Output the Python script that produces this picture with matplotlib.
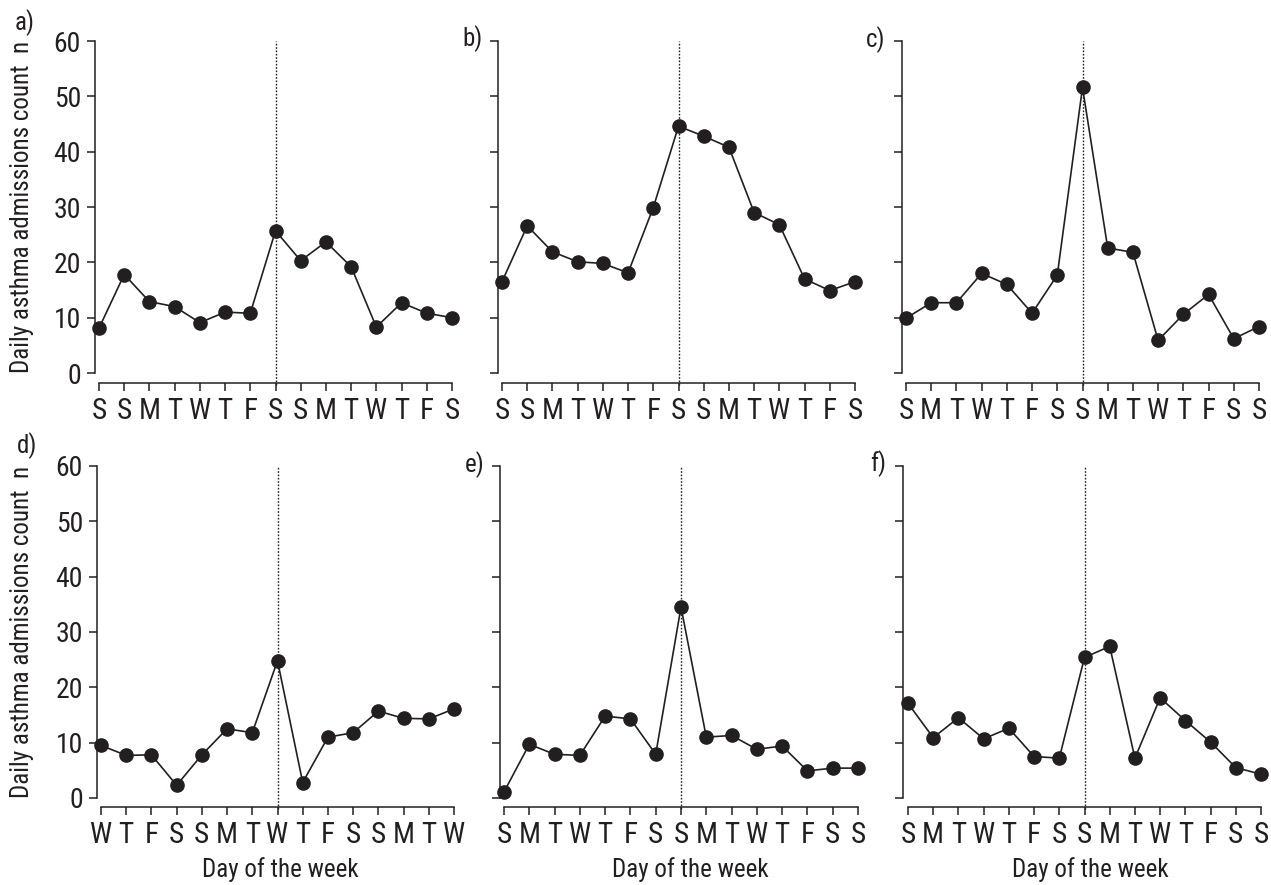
import matplotlib
matplotlib.use("Agg")
import matplotlib.pyplot as plt
from matplotlib import font_manager as fm

_installed = set(f.name for f in fm.fontManager.ttflist)
_prefs = ['Liberation Sans Narrow', 'Arial Narrow', 'Nimbus Sans Narrow', 'Roboto Condensed',
          'PT Sans Narrow', 'Archivo Narrow', 'Liberation Sans']
FONT = next(p for p in _prefs if p in _installed)
plt.rcParams['font.family'] = [FONT, 'DejaVu Sans']

INK = '#231f20'

labels_a = ["S", "S", "M", "T", "W", "T", "F", "S", "S", "M", "T", "W", "T", "F", "S"]
labels_b = ["S", "S", "M", "T", "W", "T", "F", "S", "S", "M", "T", "W", "T", "F", "S"]
labels_c = ["S", "M", "T", "W", "T", "F", "S", "S", "M", "T", "W", "T", "F", "S", "S"]
labels_d = ["W", "T", "F", "S", "S", "M", "T", "W", "T", "F", "S", "S", "M", "T", "W"]
labels_e = ["S", "M", "T", "W", "T", "F", "S", "S", "M", "T", "W", "T", "F", "S", "S"]
labels_f = ["S", "M", "T", "W", "T", "F", "S", "S", "M", "T", "W", "T", "F", "S", "S"]

counts_a = [8.1, 17.8, 12.9, 12.0, 9.1, 11.0, 10.8, 25.7, 20.3, 23.7, 19.2, 8.3, 12.7, 10.8, 10.0]
counts_b = [16.5, 26.6, 21.9, 20.1, 19.8, 18.1, 29.9, 44.6, 42.8, 40.8, 29.0, 26.8, 17.0, 14.9, 16.5]
counts_c = [9.9, 12.7, 12.7, 18.0, 16.0, 10.8, 17.7, 51.6, 22.6, 21.8, 5.9, 10.6, 14.2, 6.2, 8.4]
counts_d = [9.5, 7.7, 7.8, 2.3, 7.8, 12.5, 11.8, 24.8, 2.8, 11.0, 11.8, 15.7, 14.4, 14.3, 16.1]
counts_e = [1.1, 9.7, 7.9, 7.7, 14.8, 14.3, 7.9, 34.5, 11.0, 11.3, 8.8, 9.4, 4.9, 5.4, 5.4]
counts_f = [17.1, 10.9, 14.5, 10.7, 12.6, 7.5, 7.2, 25.4, 27.4, 7.2, 18.1, 14.0, 10.1, 5.5, 4.3]

panel_tags = ["a)", "b)", "c)", "d)", "e)", "f)"]
yticks = [0, 10, 20, 30, 40, 50, 60]
event_index = 7
ylabel = "Daily asthma admissions count  n"
xlabel = "Day of the week"

W, H = 1271, 885
fig = plt.figure(figsize=(W / 100, H / 100), dpi=100)

# pixel geometry: (y-spine x, first tick x, last tick x, y60 px, y0 px, xspine px)
geo = [
    (95, 99, 452, 41, 373, 383),
    (498, 502, 855, 41, 373, 383),
    (902, 906, 1259, 41, 373, 383),
    (97, 101, 454, 466, 798, 807),
    (500, 504, 858, 466, 798, 807),
    (903, 908, 1261, 466, 798, 807),
]
panels = [
    (counts_a, labels_a), (counts_b, labels_b), (counts_c, labels_c),
    (counts_d, labels_d), (counts_e, labels_e), (counts_f, labels_f),
]

tag_pos = [(25, 23), (472, 39), (876, 40), (27, 446), (475, 465), (878, 464)]

for i, ((vals, labs), g) in enumerate(zip(panels, geo)):
    sx, x0p, x14p, y60p, y0p, xsp = g
    n = len(vals)
    pxu_x = (x14p - x0p) / (n - 1)
    pxu_y = (y0p - y60p) / 60.0
    xl = -(x0p - sx) / pxu_x
    xr = (n - 1) + 0.45
    yb = -(xsp - y0p) / pxu_y
    yt = 60.6
    left_px = sx
    right_px = x0p + xr * pxu_x
    bottom_px = xsp
    top_px = y0p - yt * pxu_y
    ax = fig.add_axes([left_px / W, 1 - bottom_px / H,
                       (right_px - left_px) / W, (bottom_px - top_px) / H])
    ax.set_xlim(xl, xr)
    ax.set_ylim(yb, yt)
    x = list(range(n))
    ax.plot([event_index, event_index], [yb - 0.3, 60], linestyle=(0, (1.2, 1.2)),
            color=INK, lw=1.0, clip_on=False, zorder=1)
    ax.plot(x, vals, color=INK, lw=1.2, marker='o', markersize=9.5,
            markerfacecolor=INK, markeredgecolor=INK, zorder=3, clip_on=False)
    for s in ['top', 'right']:
        ax.spines[s].set_visible(False)
    ax.spines['left'].set_bounds(0, 60)
    ax.spines['bottom'].set_bounds(0, n - 1)
    for s in ['left', 'bottom']:
        ax.spines[s].set_linewidth(1.1)
        ax.spines[s].set_color(INK)
    ax.set_yticks(yticks)
    ax.set_xticks(x)
    ax.set_xticklabels(labs)
    ax.tick_params(axis='both', direction='out', length=6, width=1.1, color=INK,
                   labelcolor=INK)
    ax.tick_params(axis='x', labelsize=21, pad=4)
    ax.tick_params(axis='y', labelsize=20, pad=4)
    if i % 3 == 0:
        ax.set_yticklabels([str(v) for v in yticks])
    else:
        ax.set_yticklabels([])
    tx, ty = tag_pos[i]
    fig.text(tx / W, 1 - ty / H, panel_tags[i], fontsize=18, color=INK,
             ha='center', va='center')

fig.text(22 / W, 1 - 207 / H, ylabel, rotation=90, fontsize=18, color=INK,
         ha='center', va='center')
fig.text(22 / W, 1 - 632 / H, ylabel, rotation=90, fontsize=18, color=INK,
         ha='center', va='center')
for cx in [280, 690, 1090]:
    fig.text(cx / W, 1 - 877 / H, xlabel, fontsize=18, color=INK,
             ha='center', va='baseline')

fig.savefig("out.png", dpi=100, facecolor='white')
